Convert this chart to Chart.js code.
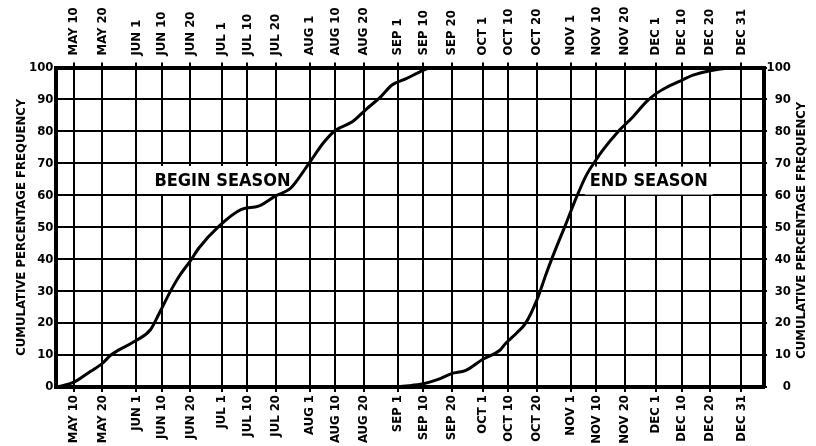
<!DOCTYPE html>
<html>
<head>
<meta charset="utf-8">
<script src="https://cdn.jsdelivr.net/npm/chart.js@4"></script>
<style>
  html, body { margin: 0; padding: 0; background: #fff; }
  #chart { display: block; }
</style>
</head>
<body>
<canvas id="chart" width="816" height="446"></canvas>
<script>
// x positions are day of year (May 10 = 130, Dec 31 = 365)
const tickDays = [130, 140, 152, 161, 171, 182, 191, 201, 213, 222, 232, 244,
  253, 263, 274, 283, 293, 305, 314, 324, 335, 344, 354, 365];
const tickLabels = ['MAY 10', 'MAY 20', 'JUN 1', 'JUN 10', 'JUN 20', 'JUL 1', 'JUL 10', 'JUL 20',
  'AUG 1', 'AUG 10', 'AUG 20', 'SEP 1', 'SEP 10', 'SEP 20', 'OCT 1', 'OCT 10', 'OCT 20',
  'NOV 1', 'NOV 10', 'NOV 20', 'DEC 1', 'DEC 10', 'DEC 20', 'DEC 31'];

// cumulative percentage
const beginDays = [124, 130, 135, 140, 143, 152, 157, 160, 164, 167, 171, 174, 181, 189, 195,
  201, 206, 208, 213, 218, 222, 228, 233, 238, 242, 247, 253, 256, 373];
const beginPct = [0, 1.5, 4.4, 7.4, 10, 14.6, 18, 23, 30, 34.6, 39.5, 43.5, 50.3, 55.6, 56.6,
  59.8, 62, 64, 70.3, 76.6, 80.3, 83, 87, 90.8, 94.5, 96.5, 99.1, 100, 100];

const endDays = [124, 241, 248, 253, 258, 263, 268, 274, 280, 282, 286, 289, 293, 296.4, 300,
  303, 307, 310.5, 313.4, 316.3, 321.6, 326.9, 331.6, 335.1, 339.2, 344, 348, 354, 365, 373];
const endPct = [0, 0, 0.4, 1, 2.3, 4.2, 5.2, 8.7, 11.5, 13.6, 17, 19.9, 27.2, 35.7, 44,
  50.5, 59.5, 66.4, 70.5, 74.2, 79.9, 84.6, 89.3, 91.9, 94, 96, 97.6, 99, 100, 100];

const seasonLabels = ['BEGIN SEASON', 'END SEASON'];
const yTitle = 'CUMULATIVE PERCENTAGE FREQUENCY';

const FONT = "'DejaVu Sans Condensed', 'Liberation Sans Narrow', 'DejaVu Sans', sans-serif";
const tickFont = { family: FONT, size: 13, weight: 'bold' };

const toPoints = (xs, ys) => xs.map((x, i) => ({ x: x, y: ys[i] }));

// one axis setup used for the bottom and the top date scales
const dateAxis = (position) => ({
  type: 'linear',
  position: position,
  display: true,
  min: 123.5,
  max: 373,
  afterBuildTicks: (scale) => { scale.ticks = tickDays.map(v => ({ value: v })); },
  afterFit: (scale) => { scale.height = position === 'top' ? 67.5 : 59; },
  grid: { color: '#000', lineWidth: 2, tickLength: 5, tickColor: '#000' },
  border: { color: '#000', width: 4 },
  ticks: {
    autoSkip: false,
    minRotation: 90,
    maxRotation: 90,
    padding: position === 'top' ? 7 : 3,
    labelOffset: position === 'top' ? 15.6 : 0, // top labels come out one line too far left
    color: '#000',
    font: tickFont,
    callback: (value, index) => tickLabels[index]
  }
});

// white boxes with the season names, drawn under the curves
const seasonText = {
  id: 'seasonText',
  beforeDatasetsDraw(chart) {
    const { ctx, scales: { x, y } } = chart;
    const spots = [[182.3, 64.8], [332.4, 64.6]];
    ctx.save();
    ctx.font = 'bold 18px ' + FONT;
    ctx.textAlign = 'center';
    ctx.textBaseline = 'middle';
    seasonLabels.forEach((txt, i) => {
      const cx = x.getPixelForValue(spots[i][0]);
      const cy = y.getPixelForValue(spots[i][1]);
      const w = ctx.measureText(txt).width + 10;
      ctx.fillStyle = '#fff';
      ctx.fillRect(cx - w / 2, cy - 14, w, 28);
      ctx.fillStyle = '#000';
      ctx.fillText(txt, cx, cy + 1);
    });
    ctx.restore();
  },
  afterDraw(chart) {
    // right-hand axis title reads bottom to top like the left one
    const { ctx, chartArea } = chart;
    ctx.save();
    ctx.translate(802, (chartArea.top + chartArea.bottom) / 2 + 3);
    ctx.rotate(-Math.PI / 2);
    ctx.font = 'bold 13px ' + FONT;
    ctx.fillStyle = '#000';
    ctx.textAlign = 'center';
    ctx.textBaseline = 'middle';
    ctx.fillText(yTitle, 0, 0);
    ctx.restore();
  }
};

const ctx = document.getElementById('chart').getContext('2d');
new Chart(ctx, {
  type: 'line',
  data: {
    datasets: [
      {
        label: 'Begin season',
        data: toPoints(beginDays, beginPct),
        borderColor: '#000',
        borderWidth: 3,
        pointRadius: 0,
        cubicInterpolationMode: 'monotone',
        xAxisID: 'x',
        yAxisID: 'y'
      },
      {
        label: 'End season',
        data: toPoints(endDays, endPct),
        borderColor: '#000',
        borderWidth: 3,
        pointRadius: 0,
        cubicInterpolationMode: 'monotone',
        xAxisID: 'x',
        yAxisID: 'y'
      }
    ]
  },
  options: {
    responsive: false,
    animation: false,
    layout: { padding: { left: 0, top: 0, bottom: 0, right: 25 } },
    plugins: {
      legend: { display: false },
      tooltip: { enabled: false }
    },
    scales: {
      x: dateAxis('bottom'),
      x2: dateAxis('top'),
      y: {
        position: 'left',
        min: 0,
        max: 100,
        afterFit: (scale) => { scale.width = 55.5; },
        grid: { color: '#000', lineWidth: 2, drawTicks: false },
        border: { color: '#000', width: 4 },
        ticks: { stepSize: 10, padding: 2, color: '#000', font: tickFont },
        title: {
          display: true,
          text: yTitle,
          color: '#000',
          font: tickFont,
          padding: { top: 14, bottom: 0 }
        }
      },
      y2: {
        position: 'right',
        display: true,
        min: 0,
        max: 100,
        afterFit: (scale) => { scale.width = 27; },
        grid: { drawOnChartArea: false, color: '#000', lineWidth: 2, tickLength: 3 },
        border: { color: '#000', width: 4 },
        ticks: { stepSize: 10, padding: 0, crossAlign: 'far', color: '#000', font: tickFont }
      }
    }
  },
  plugins: [seasonText]
});
</script>
</body>
</html>
